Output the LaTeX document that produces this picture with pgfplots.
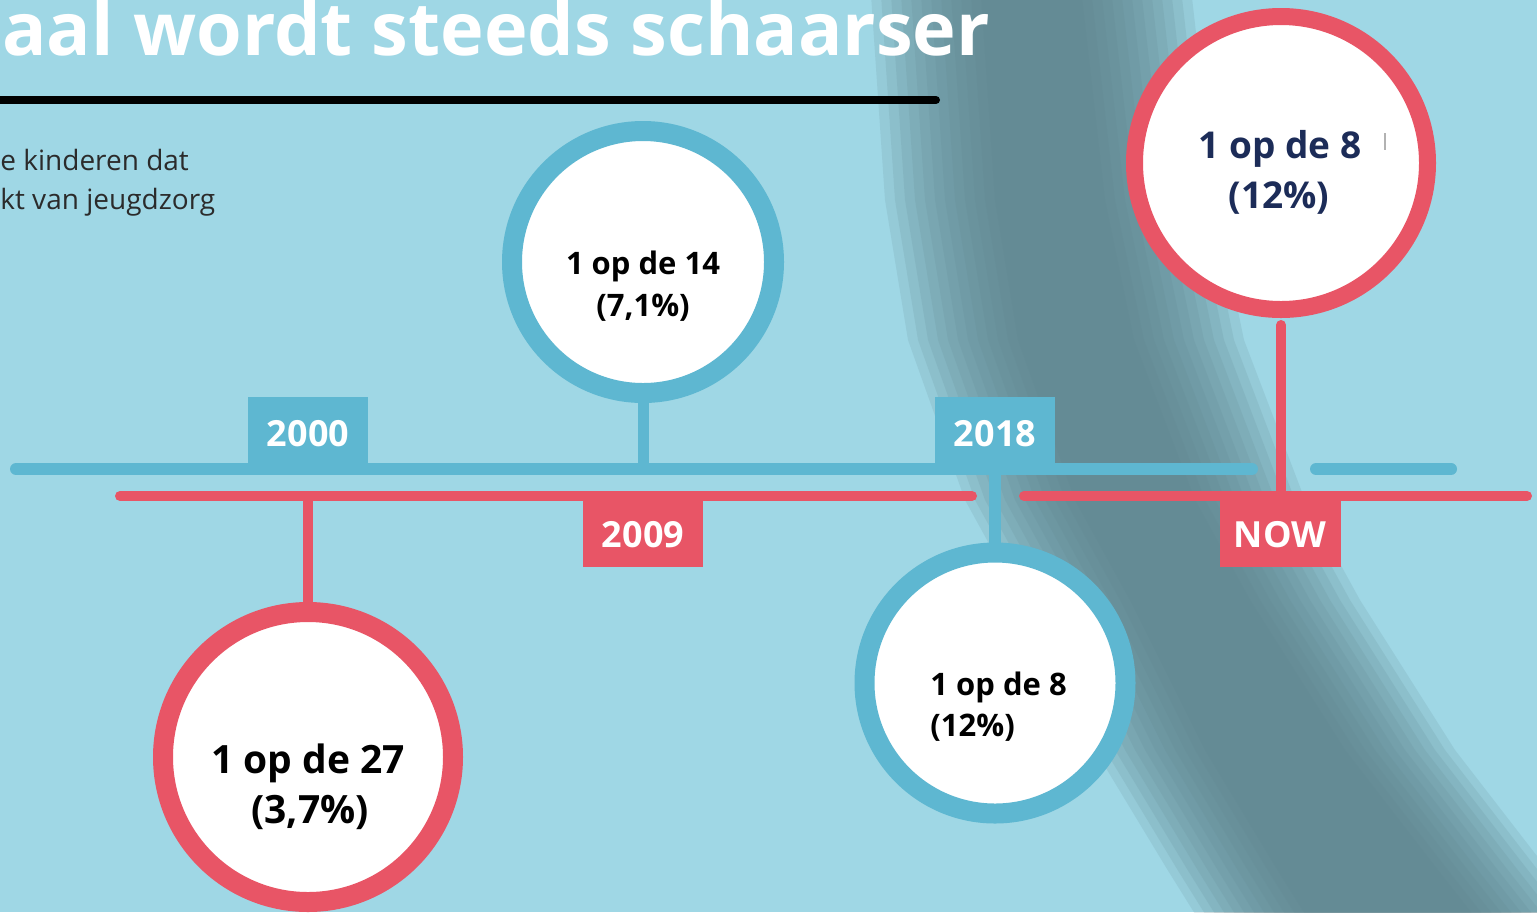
\documentclass[border=0pt]{standalone}
\usepackage{pgfplots}
\pgfplotsset{compat=1.18}
\usepackage{fontspec}
\setmainfont{Open Sans}
\definecolor{bg}{HTML}{9FD7E5}
\definecolor{tlblue}{HTML}{5EB7D1}
\definecolor{tlred}{HTML}{E85566}
\definecolor{navy}{HTML}{1C2C58}
\definecolor{shadow}{HTML}{5D828B}
\definecolor{subtxt}{HTML}{2B2B2B}
\begin{document}
\begin{tikzpicture}
\begin{axis}[x=0.5pt, y=0.5pt, y dir=reverse, xmin=0, xmax=1537, ymin=0, ymax=912,
  hide axis, clip=true, clip marker paths=true, scale only axis]
% background
\addplot[fill=bg, draw=none] coordinates {(0,0) (1537,0) (1537,912) (0,912)} -- cycle;
% diagonal shadow band (soft layers)
\pgfplotsset{every axis plot/.append style={}}
\addplot[fill=shadow, fill opacity=0.15, draw=none] coordinates {
 (870,-20) (885,200) (908,340) (965,500) (1020,600) (1095,750) (1167,869) (1205,930)
 (1595,930) (1547,869) (1455,750) (1360,600) (1305,500) (1244,340) (1215,200) (1190,-20)} -- cycle;
\addplot[fill=shadow, fill opacity=0.15, draw=none] coordinates {
 (880,-20) (895,200) (918,340) (975,500) (1030,600) (1105,750) (1177,869) (1215,930)
 (1585,930) (1537,869) (1445,750) (1350,600) (1295,500) (1234,340) (1205,200) (1180,-20)} -- cycle;
\addplot[fill=shadow, fill opacity=0.15, draw=none] coordinates {
 (890,-20) (905,200) (928,340) (985,500) (1040,600) (1115,750) (1187,869) (1225,930)
 (1575,930) (1527,869) (1435,750) (1340,600) (1285,500) (1224,340) (1195,200) (1170,-20)} -- cycle;
\addplot[fill=shadow, fill opacity=0.15, draw=none] coordinates {
 (900,-20) (915,200) (938,340) (995,500) (1050,600) (1125,750) (1197,869) (1235,930)
 (1565,930) (1517,869) (1425,750) (1330,600) (1275,500) (1214,340) (1185,200) (1160,-20)} -- cycle;
\addplot[fill=shadow, fill opacity=0.15, draw=none] coordinates {
 (910,-20) (925,200) (948,340) (1005,500) (1060,600) (1135,750) (1207,869) (1245,930)
 (1555,930) (1507,869) (1415,750) (1320,600) (1265,500) (1204,340) (1175,200) (1150,-20)} -- cycle;
\addplot[fill=shadow, fill opacity=0.15, draw=none] coordinates {
 (920,-20) (935,200) (958,340) (1015,500) (1070,600) (1145,750) (1217,869) (1255,930)
 (1545,930) (1497,869) (1405,750) (1310,600) (1255,500) (1194,340) (1165,200) (1140,-20)} -- cycle;
\addplot[fill=shadow, fill opacity=0.15, draw=none] coordinates {
 (930,-20) (945,200) (968,340) (1025,500) (1080,600) (1155,750) (1227,869) (1265,930)
 (1535,930) (1487,869) (1395,750) (1300,600) (1245,500) (1184,340) (1155,200) (1130,-20)} -- cycle;
\addplot[fill=shadow, fill opacity=0.15, draw=none] coordinates {
 (940,-20) (955,200) (978,340) (1035,500) (1090,600) (1165,750) (1237,869) (1275,930)
 (1525,930) (1477,869) (1385,750) (1290,600) (1235,500) (1174,340) (1145,200) (1120,-20)} -- cycle;
\addplot[fill=shadow, fill opacity=0.15, draw=none] coordinates {
 (950,-20) (965,200) (988,340) (1045,500) (1100,600) (1175,750) (1247,869) (1285,930)
 (1515,930) (1467,869) (1375,750) (1280,600) (1225,500) (1164,340) (1135,200) (1110,-20)} -- cycle;
\addplot[fill=shadow, fill opacity=0.15, draw=none] coordinates {
 (960,-20) (975,200) (998,340) (1055,500) (1110,600) (1185,750) (1257,869) (1295,930)
 (1505,930) (1457,869) (1365,750) (1270,600) (1215,500) (1154,340) (1125,200) (1100,-20)} -- cycle;
\addplot[fill=shadow, fill opacity=0.15, draw=none] coordinates {
 (970,-20) (985,200) (1008,340) (1065,500) (1120,600) (1195,750) (1267,869) (1305,930)
 (1495,930) (1447,869) (1355,750) (1260,600) (1205,500) (1144,340) (1115,200) (1090,-20)} -- cycle;
\addplot[fill=shadow, fill opacity=0.15, draw=none] coordinates {
 (980,-20) (995,200) (1018,340) (1075,500) (1130,600) (1205,750) (1277,869) (1315,930)
 (1485,930) (1437,869) (1345,750) (1250,600) (1195,500) (1134,340) (1105,200) (1080,-20)} -- cycle;
% title rule
\addplot[black, line width=4pt, line cap=round] coordinates {(-10,100) (936,100)};
% timelines
\addplot[tlblue, line width=6pt, line cap=round] coordinates {(16,469) (1252,469)};
\addplot[tlblue, line width=6pt, line cap=round] coordinates {(1316,469) (1451,469)};
\addplot[tlred, line width=5pt, line cap=round] coordinates {(120,496) (972,496)};
\addplot[tlred, line width=5pt, line cap=round] coordinates {(1024,496) (1527,496)};
% connectors
\addplot[tlblue, line width=5.5pt] coordinates {(643,390) (643,469)};
\addplot[tlblue, line width=6pt] coordinates {(995,469) (995,550)};
\addplot[tlred, line width=5pt] coordinates {(308,496) (308,610)};
\addplot[tlred, line width=5pt, line cap=round] coordinates {(1281,325) (1281,496)};
% year boxes
\addplot[fill=tlblue, draw=none] coordinates {(248,397) (368,397) (368,466) (248,466)} -- cycle;
\addplot[fill=tlblue, draw=none] coordinates {(935,397) (1055,397) (1055,466) (935,466)} -- cycle;
\addplot[fill=tlred, draw=none] coordinates {(583,499) (703,499) (703,567) (583,567)} -- cycle;
\addplot[fill=tlred, draw=none] coordinates {(1220,499) (1341,499) (1341,567) (1220,567)} -- cycle;
% circles
\addplot[only marks, mark=*, mark size=65.5pt, mark options={draw=tlblue, fill=white, line width=10pt}] coordinates {(643,262)};
\addplot[only marks, mark=*, mark size=65.25pt, mark options={draw=tlblue, fill=white, line width=10pt}] coordinates {(995,683)};
\addplot[only marks, mark=*, mark size=72.5pt, mark options={draw=tlred, fill=white, line width=10pt}] coordinates {(308,757)};
\addplot[only marks, mark=*, mark size=73.25pt, mark options={draw=tlred, fill=white, line width=8.5pt}] coordinates {(1281,163)};
% small grey artefact right of the top text
\addplot[gray!60, line width=1pt] coordinates {(1385,133) (1385,150)};
% texts
\node[anchor=base west, inner sep=0pt, text=white, font=\fontsize{36.9}{40}\selectfont\bfseries] at (axis cs:2,55) {aal wordt steeds schaarser};
\node[anchor=base west, inner sep=0pt, text=subtxt, font=\fontsize{14}{18}\selectfont] at (axis cs:0,170) {e kinderen dat};
\node[anchor=base west, inner sep=0pt, text=subtxt, font=\fontsize{14}{18}\selectfont] at (axis cs:0,209) {kt van jeugdzorg};
\node[anchor=base, inner sep=0pt, text=white, font=\fontsize{18}{20}\selectfont\bfseries] at (axis cs:308,446) {2000};
\node[anchor=base, inner sep=0pt, text=white, font=\fontsize{18}{20}\selectfont\bfseries] at (axis cs:995,446) {2018};
\node[anchor=base, inner sep=0pt, text=white, font=\fontsize{18}{20}\selectfont\bfseries] at (axis cs:643,547) {2009};
\node[anchor=base, inner sep=0pt, text=white, font=\fontsize{18}{20}\selectfont\bfseries] at (axis cs:1280,547) {NOW};
\node[anchor=base, inner sep=0pt, text=black, font=\fontsize{15.5}{18}\selectfont\bfseries] at (axis cs:643,274) {1 op de 14};
\node[anchor=base, inner sep=0pt, text=black, font=\fontsize{15.5}{18}\selectfont\bfseries] at (axis cs:643,316) {(7,1\%)};
\node[anchor=base, inner sep=0pt, text=black, font=\fontsize{19.5}{22}\selectfont\bfseries] at (axis cs:308,773) {1 op de 27};
\node[anchor=base, inner sep=0pt, text=black, font=\fontsize{19.5}{22}\selectfont\bfseries] at (axis cs:310,823) {(3,7\%)};
\node[anchor=base west, inner sep=0pt, text=black, font=\fontsize{15.5}{18}\selectfont\bfseries] at (axis cs:930,695) {1 op de 8};
\node[anchor=base west, inner sep=0pt, text=black, font=\fontsize{15.5}{18}\selectfont\bfseries] at (axis cs:930,736) {(12\%)};
\node[anchor=base, inner sep=0pt, text=navy, font=\fontsize{18.5}{22}\selectfont\bfseries] at (axis cs:1280,158) {1 op de 8};
\node[anchor=base, inner sep=0pt, text=navy, font=\fontsize{18.5}{22}\selectfont\bfseries] at (axis cs:1279,208) {(12\%)};
\end{axis}
\pgfresetboundingbox
\path[use as bounding box] (current axis.south west) rectangle (current axis.north east);
\end{tikzpicture}
\end{document}
